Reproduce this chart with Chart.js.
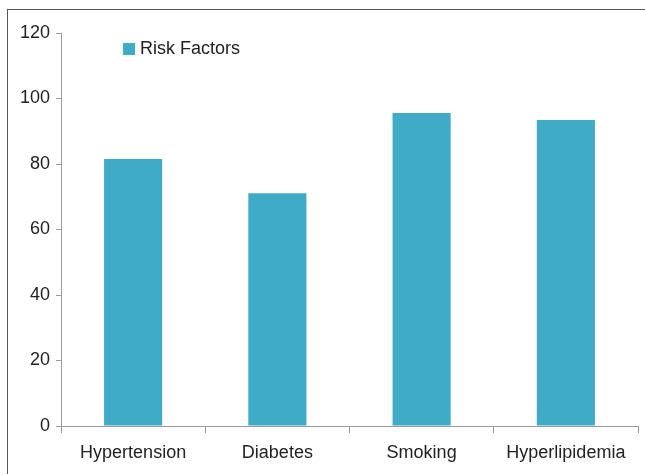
<!DOCTYPE html>
<html>
<head>
<meta charset="utf-8">
<script src="https://cdn.jsdelivr.net/npm/chart.js@4/dist/chart.umd.min.js"></script>
<style>
  html, body { margin: 0; padding: 0; background: #fff; overflow: hidden; }
  #wrap { position: relative; width: 645px; height: 474px; }
  #frame { position: absolute; left: 7px; top: 9px; width: 700px; height: 520px; border: 1.5px solid #555; box-sizing: border-box; pointer-events: none; }
  canvas { position: absolute; left: 0; top: 0; }
</style>
</head>
<body>
<div id="wrap">
  <canvas id="c" width="645" height="474"></canvas>
  <div id="frame"></div>
</div>
<script>
const categories = ["Hypertension", "Diabetes", "Smoking", "Hyperlipidemia"];
const seriesName = "Risk Factors";
const values = [81.5, 71.1, 95.6, 93.4];
const yTicks = [0, 20, 40, 60, 80, 100, 120];

const barColor = "#3FABC7";
const axisColor = "#9a9a9a";
const textColor = "#222";
const fontFamily = "'Liberation Sans', Arial, sans-serif";

const legendPlugin = {
  id: "insideLegend",
  afterDraw(chart) {
    const ctx = chart.ctx;
    const a = chart.chartArea;
    const ds = chart.data.datasets[0];
    const x = a.left + 62, y = a.top + 10;
    ctx.save();
    ctx.fillStyle = ds.backgroundColor;
    ctx.fillRect(x, y, 12, 12);
    ctx.fillStyle = textColor;
    ctx.font = "18px " + fontFamily;
    ctx.textBaseline = "middle";
    ctx.fillText(ds.label, x + 17, y + 6.5);
    ctx.restore();
  }
};

new Chart(document.getElementById("c"), {
  type: "bar",
  data: {
    labels: categories,
    datasets: [{
      label: seriesName,
      data: values,
      backgroundColor: barColor,
      borderWidth: 0,
      categoryPercentage: 0.403,
      barPercentage: 1.0
    }]
  },
  options: {
    responsive: false,
    animation: false,
    events: [],
    layout: { padding: { left: 0, right: 7, top: 33, bottom: 0 } },
    plugins: { legend: { display: false }, tooltip: { enabled: false } },
    scales: {
      x: {
        grid: { display: true, offset: true, drawOnChartArea: false, tickLength: 7, color: axisColor, lineWidth: 1 },
        border: { color: axisColor, width: 1 },
        ticks: { color: textColor, font: { size: 18, family: fontFamily }, padding: 9, maxRotation: 0 },
        afterFit(s) { s.height = 48; }
      },
      y: {
        min: 0, max: 120,
        afterBuildTicks(s) { s.ticks = yTicks.map(v => ({ value: v })); },
        grid: { display: true, drawOnChartArea: false, tickLength: 5, color: axisColor, lineWidth: 1 },
        border: { color: axisColor, width: 1 },
        ticks: { color: textColor, font: { size: 18, family: fontFamily }, padding: 6 },
        afterFit(s) { s.width = 61; }
      }
    }
  },
  plugins: [legendPlugin]
});
</script>
</body>
</html>
